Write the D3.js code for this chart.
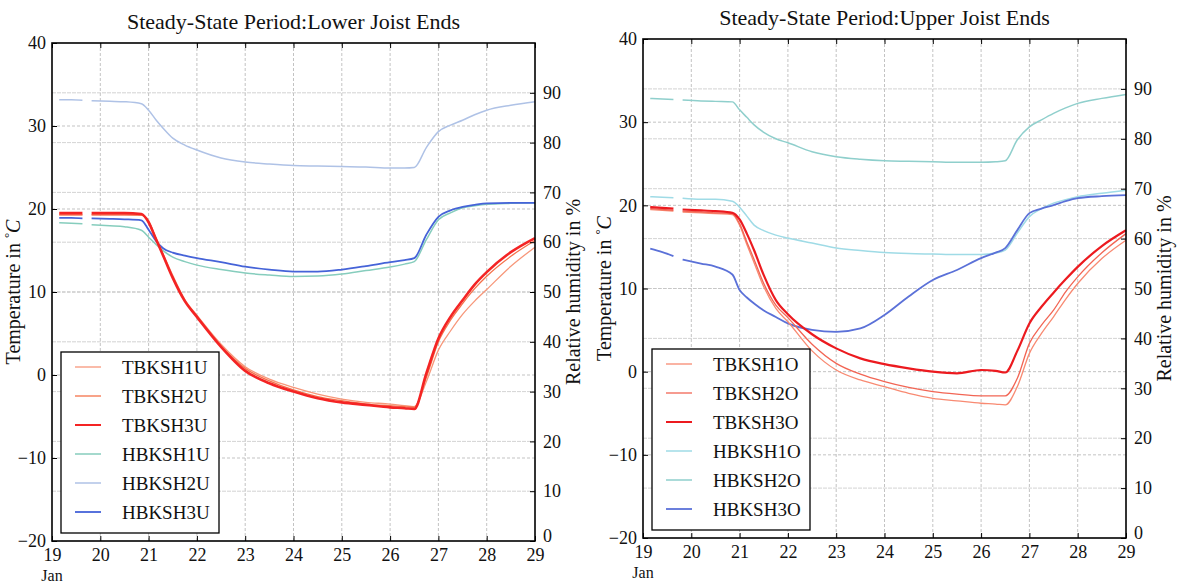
<!DOCTYPE html>
<html>
<head>
<meta charset="utf-8">
<script src="https://cdn.jsdelivr.net/npm/d3@7"></script>
<style>
  body { margin: 0; background: #fff; }
  svg text { font-family: "Liberation Serif", "DejaVu Serif", serif; fill: #111; }
</style>
</head>
<body>
<script>
var W = 1181, H = 587;

// shared time grid (day of January); the null column is the gap in the records
var days = [19.15, 19.4, 19.63, 19.72, 19.82, 20.2, 20.5, 20.85, 21.0, 21.15, 21.3, 21.5, 21.75, 22.0, 22.5, 23.0,
            23.5, 24.0, 24.5, 25.0, 25.5, 26.0, 26.3, 26.5, 26.75, 27.0, 27.25, 27.5, 27.75, 28.0, 28.5, 29.0];

// lower joist ends
var TBKSH1U = [19.3, 19.3, 19.3, null, 19.3, 19.3, 19.3, 19.25, 18.6, 16.5, 14.6, 12.0, 9.1, 7.2, 3.7, 1.0,
               -0.5, -1.5, -2.3, -2.9, -3.3, -3.5, -3.7, -3.8, -0.8, 3.0, 5.3, 7.3, 8.9, 10.3, 13.1, 15.4];
var TBKSH2U = [19.3, 19.3, 19.3, null, 19.3, 19.3, 19.3, 19.25, 18.5, 16.5, 14.5, 11.8, 9.0, 7.1, 3.5, 0.8,
               -0.7, -1.8, -2.6, -3.1, -3.5, -3.7, -3.8, -3.9, -0.3, 4.0, 6.6, 8.6, 10.4, 11.9, 14.3, 16.2];
var TBKSH3U = [19.5, 19.5, 19.5, null, 19.5, 19.5, 19.5, 19.4, 18.4, 16.4, 14.4, 11.7, 8.9, 7.0, 3.4, 0.5,
               -1.0, -2.0, -2.8, -3.3, -3.6, -3.9, -4.0, -4.1, 0.2, 4.4, 7.0, 9.0, 10.9, 12.4, 14.8, 16.5];
var HBKSH1U = [63.9, 63.8, 63.7, null, 63.5, 63.3, 63.1, 62.4, 61.0, 59.6, 58.3, 57.0, 56.1, 55.4, 54.5, 53.8,
               53.4, 53.1, 53.2, 53.6, 54.3, 55.0, 55.6, 56.1, 60.5, 64.5, 65.9, 66.9, 67.3, 67.6, 67.8, 67.9];
var HBKSH2U = [88.6, 88.6, 88.5, null, 88.4, 88.3, 88.2, 87.8, 86.5, 84.6, 82.9, 80.9, 79.5, 78.5, 76.9, 76.1,
               75.7, 75.4, 75.3, 75.2, 75.1, 74.9, 74.9, 75.0, 79.0, 82.2, 83.5, 84.5, 85.6, 86.5, 87.5, 88.2];
var HBKSH3U = [64.9, 64.9, 64.8, null, 64.8, 64.7, 64.6, 64.4, 62.5, 60.3, 58.8, 57.9, 57.3, 56.8, 56.0, 55.1,
               54.5, 54.1, 54.1, 54.5, 55.2, 56.0, 56.4, 56.8, 61.5, 65.1, 66.4, 67.1, 67.5, 67.8, 67.9, 67.9];

// upper joist ends
var TBKSH1O = [19.5, 19.4, 19.3, null, 19.2, 19.1, 19.0, 18.9, 17.6, 15.3, 13.1, 10.2, 7.6, 6.0, 2.5, 0.2,
               -1.0, -1.8, -2.6, -3.2, -3.5, -3.8, -3.9, -4.0, -1.8, 2.2, 4.6, 6.6, 8.7, 10.6, 13.6, 15.8];
var TBKSH2O = [19.6, 19.5, 19.4, null, 19.3, 19.2, 19.1, 19.0, 17.8, 15.6, 13.5, 10.6, 8.0, 6.5, 3.3, 1.0,
               -0.3, -1.2, -1.9, -2.4, -2.7, -2.9, -2.9, -2.9, -0.8, 3.4, 5.6, 7.4, 9.6, 11.4, 14.3, 16.6];
var TBKSH3O = [19.8, 19.7, 19.6, null, 19.5, 19.4, 19.3, 19.1, 18.3, 16.6, 14.6, 11.6, 8.6, 6.9, 4.5, 2.8,
               1.6, 0.9, 0.4, 0.0, -0.2, 0.2, 0.1, -0.1, 2.5, 5.8, 7.8, 9.5, 11.1, 12.6, 15.1, 17.0];
var HBKSH1O = [68.4, 68.3, 68.2, null, 68.1, 67.9, 67.9, 67.5, 66.3, 64.5, 62.7, 61.6, 60.7, 60.1, 59.1, 58.1,
               57.6, 57.2, 57.0, 56.9, 56.8, 56.8, 57.1, 57.7, 61.1, 64.4, 66.0, 67.1, 67.8, 68.4, 69.1, 69.7];
var HBKSH2O = [88.1, 88.0, 87.9, null, 87.8, 87.6, 87.5, 87.4, 85.8, 84.3, 82.8, 81.3, 80.0, 79.2, 77.4, 76.4,
               75.9, 75.6, 75.5, 75.4, 75.3, 75.3, 75.4, 75.6, 79.8, 82.4, 83.8, 85.1, 86.2, 87.1, 88.1, 88.9];
var HBKSH3O = [58.0, 57.3, 56.5, null, 55.8, 55.0, 54.4, 52.8, 49.7, 48.2, 47.0, 45.6, 44.3, 43.0, 41.7, 41.3,
               42.0, 44.7, 48.4, 51.7, 53.7, 56.1, 57.2, 58.1, 61.7, 65.1, 66.0, 66.7, 67.5, 68.1, 68.5, 68.7];

var dayTicks = [19, 20, 21, 22, 23, 24, 25, 26, 27, 28, 29];
var tempTicks = [-20, -10, 0, 10, 20, 30, 40];
var rhTicks = [0, 10, 20, 30, 40, 50, 60, 70, 80, 90];

var panels = [
    {
        title: "Steady-State Period:Lower Joist Ends",
        left: 52, top: 43, width: 483, height: 498, titleY: 29,
        series: [
            {name: "TBKSH1U", values: TBKSH1U, axis: "T", color: "#f7977a", width: 1.3},
            {name: "TBKSH2U", values: TBKSH2U, axis: "T", color: "#f5714a", width: 1.3},
            {name: "TBKSH3U", values: TBKSH3U, axis: "T", color: "#f42424", width: 2.6},
            {name: "HBKSH1U", values: HBKSH1U, axis: "H", color: "#86cdbd", width: 1.5},
            {name: "HBKSH2U", values: HBKSH2U, axis: "H", color: "#afc2e6", width: 1.5},
            {name: "HBKSH3U", values: HBKSH3U, axis: "H", color: "#4563d8", width: 1.8}
        ]
    },
    {
        title: "Steady-State Period:Upper Joist Ends",
        left: 643, top: 39, width: 483, height: 499, titleY: 25,
        series: [
            {name: "TBKSH1O", values: TBKSH1O, axis: "T", color: "#f88a72", width: 1.3},
            {name: "TBKSH2O", values: TBKSH2O, axis: "T", color: "#f26554", width: 1.3},
            {name: "TBKSH3O", values: TBKSH3O, axis: "T", color: "#ec1a1f", width: 2.2},
            {name: "HBKSH1O", values: HBKSH1O, axis: "H", color: "#9fdbe6", width: 1.5},
            {name: "HBKSH2O", values: HBKSH2O, axis: "H", color: "#8fcfcc", width: 1.5},
            {name: "HBKSH3O", values: HBKSH3O, axis: "H", color: "#5b71d8", width: 1.8}
        ]
    }
];

var svg = d3.select("body").append("svg")
    .attr("width", W)
    .attr("height", H);

panels.forEach(drawPanel);

function drawPanel(p) {
    var x = d3.scaleLinear().domain([19, 29]).range([p.left, p.left + p.width]),
        yT = d3.scaleLinear().domain([-20, 40]).range([p.top + p.height, p.top]),
        yH = d3.scaleLinear().domain([0, 100]).range([p.top + p.height, p.top]);

    var g = svg.append("g");

    // grid lines
    var grid = g.append("g").attr("fill", "none");
    grid.selectAll(".gx").data(dayTicks.slice(1, -1)).enter().append("line")
        .attr("x1", function(d) { return x(d); }).attr("x2", function(d) { return x(d); })
        .attr("y1", p.top).attr("y2", p.top + p.height)
        .attr("stroke", "#b4b4b4").attr("stroke-width", 0.8).attr("stroke-dasharray", "3,2");
    grid.selectAll(".gt").data(tempTicks.slice(1, -1)).enter().append("line")
        .attr("x1", p.left).attr("x2", p.left + p.width)
        .attr("y1", function(d) { return yT(d); }).attr("y2", function(d) { return yT(d); })
        .attr("stroke", "#b4b4b4").attr("stroke-width", 0.8).attr("stroke-dasharray", "3,2");
    grid.selectAll(".gh").data(rhTicks.slice(1)).enter().append("line")
        .attr("x1", p.left).attr("x2", p.left + p.width)
        .attr("y1", function(d) { return yH(d); }).attr("y2", function(d) { return yH(d); })
        .attr("stroke", "#c8c8c8").attr("stroke-width", 0.8).attr("stroke-dasharray", "4,1");

    // data lines, humidity first so temperature sits on top
    var order = p.series.filter(function(s) { return s.axis == "H"; })
        .concat(p.series.filter(function(s) { return s.axis == "T"; }));
    order.forEach(function(s) {
        var yy = s.axis == "T" ? yT : yH;
        var line = d3.line()
            .defined(function(d) { return d != null; })
            .x(function(d, i) { return x(days[i]); })
            .y(function(d) { return yy(d); })
            .curve(d3.curveMonotoneX);
        g.append("path")
            .attr("d", line(s.values))
            .attr("fill", "none")
            .attr("stroke", s.color)
            .attr("stroke-width", s.width)
            .attr("stroke-linejoin", "round");
    });

    // axes, ticks pointing inwards
    var fs = "18px";
    g.append("g").attr("transform", "translate(0," + (p.top + p.height) + ")")
        .call(d3.axisBottom(x).tickValues(dayTicks).tickSize(-5).tickPadding(7).tickFormat(d3.format("d")))
        .call(function(a) { a.select(".domain").remove(); a.selectAll("text").style("font-size", fs); });
    g.append("g").attr("transform", "translate(0," + p.top + ")")
        .call(d3.axisTop(x).tickValues(dayTicks).tickSize(-5).tickFormat(""))
        .call(function(a) { a.select(".domain").remove(); });
    g.append("g").attr("transform", "translate(" + p.left + ",0)")
        .call(d3.axisLeft(yT).tickValues(tempTicks).tickSize(-5).tickPadding(6))
        .call(function(a) { a.select(".domain").remove(); a.selectAll("text").style("font-size", fs); });
    g.append("g").attr("transform", "translate(" + (p.left + p.width) + ",0)")
        .call(d3.axisRight(yH).tickValues(rhTicks).tickSize(-5).tickPadding(8))
        .call(function(a) {
            a.select(".domain").remove();
            a.selectAll("text").style("font-size", fs);
            // lift the bottom label a little so it clears the last day label
            a.selectAll("text").filter(function(d) { return d == 0; }).attr("dy", "0.0em");
        });
    g.selectAll(".tick line").attr("stroke", "#000");

    // frame
    g.append("rect")
        .attr("x", p.left).attr("y", p.top)
        .attr("width", p.width).attr("height", p.height)
        .attr("fill", "none").attr("stroke", "#000").attr("stroke-width", 1.6);

    g.append("text")
        .attr("x", p.left).attr("y", p.top + p.height + 40)
        .attr("text-anchor", "middle").style("font-size", "16px")
        .text("Jan");

    // titles and axis labels
    g.append("text")
        .attr("x", p.left + p.width / 2).attr("y", p.titleY)
        .attr("text-anchor", "middle").style("font-size", "22px")
        .text(p.title);

    var tl = g.append("text")
        .attr("transform", "translate(" + (p.left - 32) + "," + (p.top + p.height / 2) + ") rotate(-90)")
        .attr("text-anchor", "middle").style("font-size", "20px");
    tl.append("tspan").text("Temperature in ");
    tl.append("tspan").attr("dy", -7).style("font-size", "13px").text("\u00b0");
    tl.append("tspan").attr("dy", 7).style("font-style", "italic").text("C");

    g.append("text")
        .attr("transform", "translate(" + (p.left + p.width + 45) + "," + (p.top + p.height / 2) + ") rotate(-90)")
        .attr("text-anchor", "middle").style("font-size", "20px")
        .text("Relative humidity in %");

    // legend
    var lx = p.left + 9, ly = p.top + p.height - 189, lh = 29;
    var leg = g.append("g");
    leg.append("rect")
        .attr("x", lx).attr("y", ly)
        .attr("width", 158).attr("height", 181)
        .attr("fill", "#fff").attr("stroke", "#000").attr("stroke-width", 1.3);
    var item = leg.selectAll(".item").data(p.series).enter().append("g")
        .attr("transform", function(d, i) { return "translate(" + lx + "," + (ly + 15 + i * lh) + ")"; });
    item.append("line")
        .attr("x1", 14).attr("x2", 40)
        .attr("stroke", function(d) { return d.color; })
        .attr("stroke-width", function(d) { return Math.min(d.width, 2); });
    item.append("text")
        .attr("x", 61).attr("dy", "0.35em")
        .style("font-size", "19px")
        .text(function(d) { return d.name; });
}
</script>
</body>
</html>
